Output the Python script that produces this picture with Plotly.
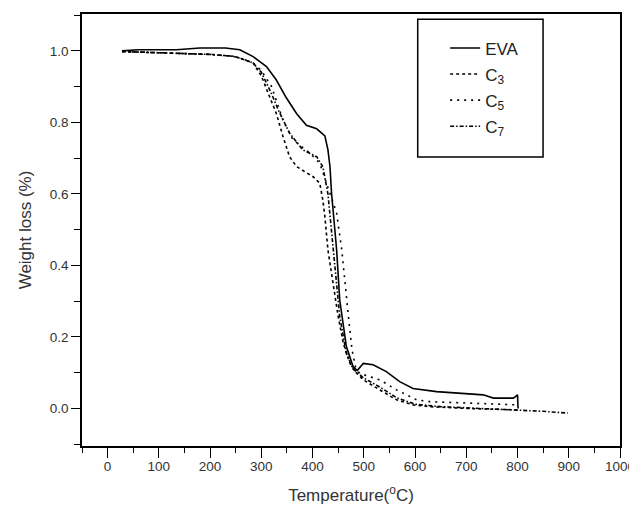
import plotly.graph_objects as go

# ---- data ----
eva_T = [28, 60, 100, 134, 180, 230, 258, 284, 310, 329, 349, 369, 388, 408, 424, 430, 434, 437,
         447, 453, 466, 479, 487, 499, 518, 544, 570, 596, 642, 694, 733, 753, 792, 800, 801]
eva_w = [1.0, 1.003, 1.003, 1.003, 1.008, 1.008, 1.003, 0.984, 0.956, 0.919, 0.868, 0.824, 0.792,
         0.782, 0.762, 0.723, 0.676, 0.603, 0.443, 0.303, 0.173, 0.117, 0.106, 0.126, 0.122, 0.103,
         0.075, 0.056, 0.047, 0.042, 0.038, 0.029, 0.029, 0.038, 0.0]

c3_T = [28, 100, 200, 244, 258, 284, 300, 316, 329, 342, 355, 369, 385, 401, 414, 420, 424, 430,
        440, 450, 460, 473, 485, 499, 531, 564, 596, 629, 700, 760, 800]
c3_w = [0.998, 0.995, 0.99, 0.985, 0.98, 0.966, 0.93, 0.872, 0.826, 0.762, 0.704, 0.676, 0.662,
        0.648, 0.63, 0.583, 0.537, 0.443, 0.35, 0.257, 0.182, 0.126, 0.1, 0.08, 0.052, 0.024,
        0.01, 0.005, 0.0, -0.002, -0.004]

c5_T = [28, 100, 200, 244, 258, 284, 300, 320, 342, 362, 395, 414, 430, 447, 457, 463, 470, 477,
        484, 492, 531, 564, 603, 629, 700, 760, 800]
c5_w = [0.998, 0.995, 0.99, 0.985, 0.98, 0.966, 0.945, 0.9, 0.807, 0.751, 0.714, 0.686, 0.62,
        0.546, 0.443, 0.35, 0.257, 0.164, 0.115, 0.098, 0.08, 0.052, 0.024, 0.019, 0.015, 0.012, 0.01]

c7_T = [28, 100, 200, 244, 258, 284, 300, 320, 333, 355, 381, 408, 420, 430, 437, 443, 453, 466,
        479, 500, 531, 564, 600, 650, 700, 750, 800, 850, 898]
c7_w = [0.998, 0.995, 0.99, 0.985, 0.98, 0.966, 0.94, 0.88, 0.835, 0.77, 0.723, 0.704, 0.676,
        0.6, 0.5, 0.397, 0.257, 0.154, 0.11, 0.085, 0.06, 0.03, 0.012, 0.005, 0.002, 0.0, -0.004,
        -0.008, -0.013]

names = ["EVA", "C<sub>3</sub>", "C<sub>5</sub>", "C<sub>7</sub>"]

x_tickvals = list(range(0, 1001, 100))
y_tickvals = [0.0, 0.2, 0.4, 0.6, 0.8, 1.0]

series = [(eva_T, eva_w, "solid", 1.6),
          (c3_T, c3_w, "dot", 1.6),
          (c5_T, c5_w, "2px,5px", 1.6),
          (c7_T, c7_w, "4px,2px,1.5px,2px", 1.6)]

fig = go.Figure()
for (T, w, dash, lw), nm in zip(series, names):
    fig.add_trace(go.Scatter(x=T, y=w, mode="lines", name=nm, legendgroup=nm,
                             line=dict(color="black", width=lw, dash=dash)))

axis_font = dict(family="Liberation Sans, Arial, sans-serif", size=13.5, color="#333333")

fig.update_layout(
    width=629, height=505,
    margin=dict(l=74, r=17, t=6, b=67, autoexpand=False),
    paper_bgcolor="white", plot_bgcolor="white",
    font=dict(family="Liberation Sans, Arial, sans-serif", color="#333333"),
    showlegend=True,
    legend=dict(x=0.675, y=0.962, xanchor="left", yanchor="top",
                bgcolor="rgba(0,0,0,0)", borderwidth=0,
                font=dict(size=17, color="#222222"), tracegroupgap=1),
    shapes=[dict(type="rect", xref="paper", yref="paper", x0=0.624, x1=0.857, y0=0.669, y1=0.988,
                 line=dict(color="black", width=1.5), fillcolor="rgba(0,0,0,0)")],
)

fig.update_xaxes(range=[-50, 1000], tickvals=x_tickvals, ticks="outside", ticklen=10,
                 tickwidth=1.3, tickcolor="black", automargin=False, ticklabelstandoff=-3,
                 minor=dict(dtick=50, tick0=0, ticks="outside", ticklen=5, tickwidth=1.3,
                            tickcolor="black"),
                 showline=True, linecolor="black", linewidth=1.5, mirror=True,
                 showgrid=False, zeroline=False, tickfont=axis_font,
                 title=dict(text="Temperature(<sup>o</sup>C)",
                            font=dict(size=17, color="#333333"), standoff=16))
fig.update_yaxes(range=[-0.105, 1.103], tickvals=y_tickvals, tickformat=".1f", ticks="outside",
                 ticklen=9, tickwidth=1.3, tickcolor="black", automargin=False,
                 minor=dict(dtick=0.1, tick0=0, ticks="outside", ticklen=6, tickwidth=1.3,
                            tickcolor="black"),
                 showline=True, linecolor="black", linewidth=1.5, mirror=True,
                 showgrid=False, zeroline=False, tickfont=axis_font,
                 title=dict(text="Weight loss (%)", font=dict(size=17, color="#333333"),
                            standoff=14))

fig.write_html("out.html")
